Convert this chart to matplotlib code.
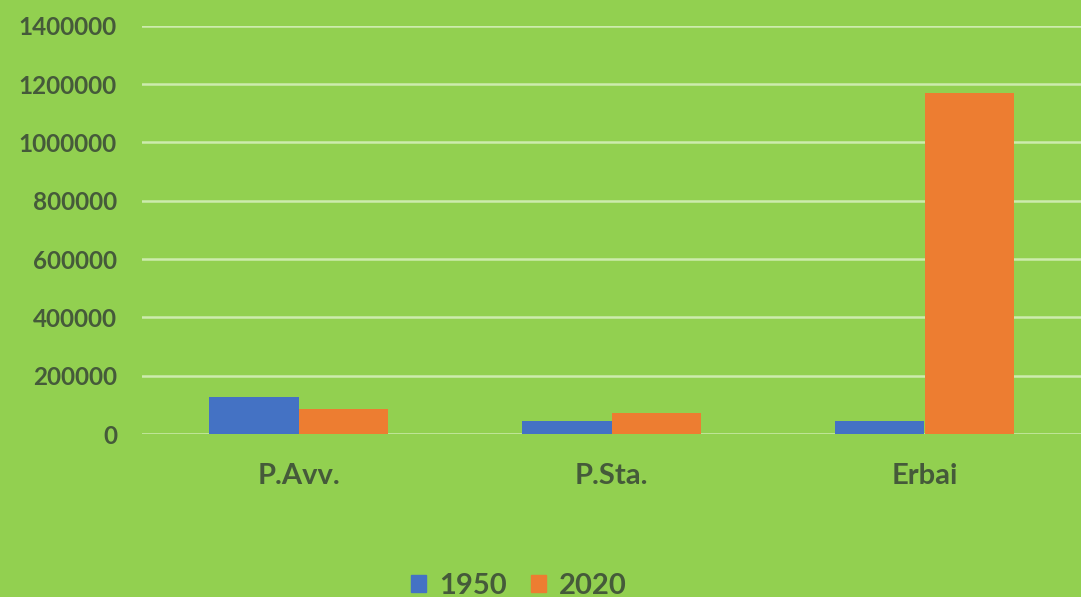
import matplotlib
matplotlib.use("Agg")
import matplotlib.pyplot as plt
import numpy as np
from matplotlib.patches import Patch

categories = ["P.Avv.", "P.Sta.", "Erbai"]
series_names = ["1950", "2020"]
values_1950 = [126000, 43000, 44000]
values_2020 = [85000, 73000, 1168000]
yticks = [0, 200000, 400000, 600000, 800000, 1000000, 1200000, 1400000]

bg = "#92D050"
blue = "#4472C4"
orange = "#ED7D31"
txt = "#455A3A"

plt.rcParams['font.family'] = ['Lato', 'DejaVu Sans']

fig = plt.figure(figsize=(10.81, 5.97), dpi=100)
fig.patch.set_facecolor(bg)
ax = fig.add_axes([142/1081, (597-434)/597, 1 - 142/1081, (434-25.7)/597])
ax.set_facecolor(bg)

x = np.arange(len(categories))
w = 0.285
ax.bar(x - w/2, values_1950, width=w, color=blue, zorder=3)
ax.bar(x + w/2, values_2020, width=w, color=orange, zorder=3)

ax.set_xlim(-0.5, 2.5)
ax.set_ylim(0, 1400000)
ax.set_yticks(yticks)
ax.set_yticklabels([str(v) for v in yticks])
ax.set_xticks(x)
ax.set_xticklabels(categories)
ax.grid(axis='y', color='#CDEBAE', linewidth=1.8, zorder=0)
ax.set_axisbelow(True)
for s in ax.spines.values():
    s.set_visible(False)
ax.tick_params(axis='both', length=0, colors=txt)
ax.tick_params(axis='y', pad=18, labelsize=17.5)
ax.tick_params(axis='x', pad=21, labelsize=21)
for lab in ax.get_yticklabels() + ax.get_xticklabels():
    lab.set_fontweight('bold')
    lab.set_color(txt)

handles = [Patch(color=blue), Patch(color=orange)]
leg = fig.legend(handles, series_names, loc='center', bbox_to_anchor=(519/1081, 11/597),
                 ncol=2, frameon=False, handlelength=0.5, handleheight=0.5,
                 handletextpad=0.45, columnspacing=0.85,
                 prop={'size': 21, 'weight': 'bold', 'family': ['Lato', 'DejaVu Sans']})
for t in leg.get_texts():
    t.set_color(txt)

fig.savefig("out.png", dpi=100, facecolor=bg)
